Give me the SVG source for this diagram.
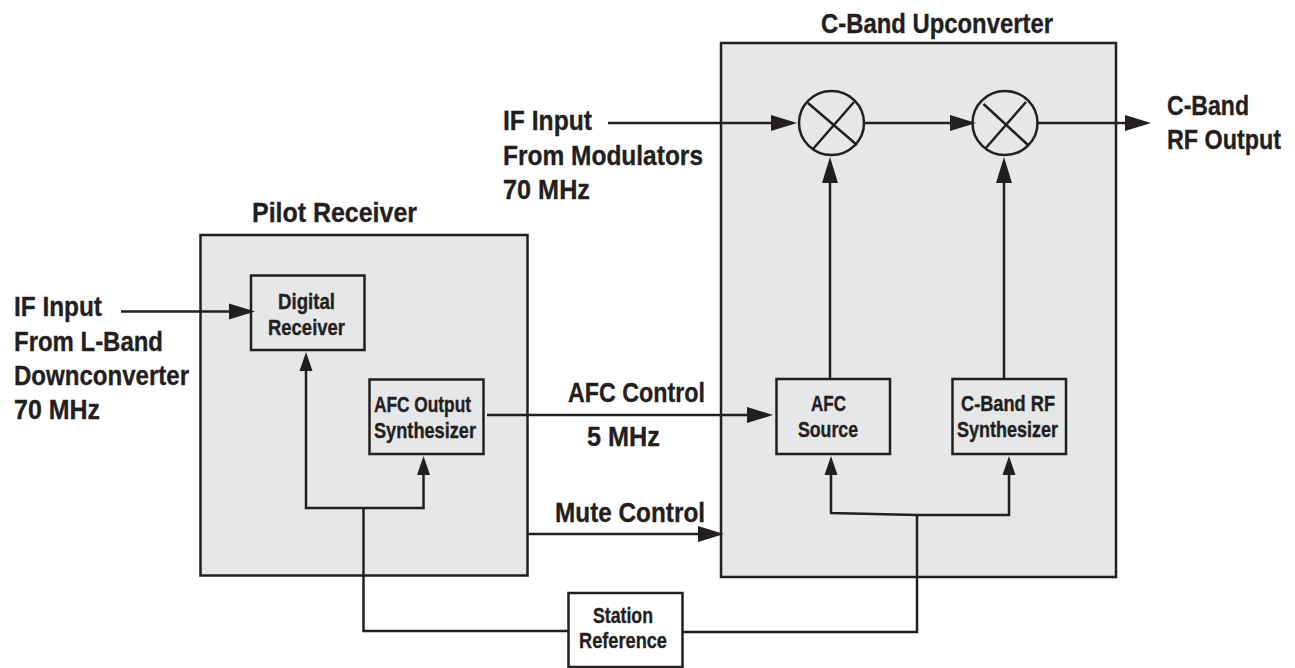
<svg xmlns="http://www.w3.org/2000/svg" width="1295" height="668" viewBox="0 0 1295 668">
<style>
.b{fill:#e6e7e8;stroke:#231f20;stroke-width:2.5}
.w{fill:#fff;stroke:#231f20;stroke-width:2.5}
.c{fill:none;stroke:#231f20;stroke-width:2.5}
text{font-family:"Liberation Sans",Arial,sans-serif;font-weight:700;fill:#231f20;stroke:#231f20;stroke-width:.35}
.l{font-size:28.5px}
.s{font-size:21.500px}
.big{marker-end:url(#ah)}
.sm{marker-end:url(#as)}
</style>
<defs>
<marker id="ah" markerUnits="userSpaceOnUse" markerWidth="27" markerHeight="16" refX="0" refY="8" orient="auto" overflow="visible"><path d="M0 0L26 8L0 16Z" fill="#231f20"/></marker>
<marker id="as" markerUnits="userSpaceOnUse" markerWidth="20" markerHeight="13" refX="0" refY="6.500" orient="auto" overflow="visible"><path d="M0 0L19 6.500L0 13Z" fill="#231f20"/></marker>
</defs>
<rect width="1295" height="668" fill="#fff"/>
<g id="pilot-receiver"><rect class="b" x="200.5" y="235" width="327" height="340.5"/>
<text class="l" x="252" y="222" textLength="165" lengthAdjust="spacingAndGlyphs">Pilot Receiver</text></g>
<g id="c-band-upconverter"><rect class="b" x="721" y="43" width="395" height="534"/>
<text class="l" x="821" y="33" textLength="232" lengthAdjust="spacingAndGlyphs">C-Band Upconverter</text></g>
<g id="connectors">
<path class="c big" d="M608 123H771"/>
<path class="c big" d="M864 123H950"/>
<path class="c big" d="M1038 123H1125"/>
<path class="c big" d="M830 379V183"/>
<path class="c big" d="M1004 379V183"/>
<path class="c big" d="M121 311.5H229"/>
<path class="c sm" d="M363.500 508H306V371"/>
<path class="c sm" d="M363.500 508H423.500V475"/>
<path class="c" d="M363.500 508V631H568.500"/>
<path class="c big" d="M487 415H747"/>
<path class="c big" d="M528 534H698"/>
<path class="c sm" d="M917 515L831 513V475"/>
<path class="c sm" d="M917 515H1009V475"/>
<path class="c" d="M917 515V632H682.500"/>
</g>
<g id="mixer-1"><ellipse class="c" cx="831.500" cy="123" rx="32.500" ry="32"/><path class="c" d="M808 103L857 145M854 102L813 149"/></g>
<g id="mixer-2"><ellipse class="c" cx="1005" cy="123" rx="32.500" ry="32"/><path class="c" d="M983.500 104L1028 145M1026 102L985 149"/></g>
<g id="digital-receiver"><rect class="c" x="251" y="275.500" width="113.500" height="74.500"/>
<text class="s" x="278" y="309" textLength="57" lengthAdjust="spacingAndGlyphs">Digital</text>
<text class="s" x="268" y="335" textLength="77" lengthAdjust="spacingAndGlyphs">Receiver</text></g>
<g id="afc-output-synthesizer"><rect class="c" x="369.500" y="379.500" width="114" height="74.500"/>
<text class="s" x="374" y="412" textLength="97" lengthAdjust="spacingAndGlyphs">AFC Output</text>
<text class="s" x="374" y="438" textLength="102" lengthAdjust="spacingAndGlyphs">Synthesizer</text></g>
<g id="afc-source"><rect class="c" x="776.500" y="379" width="113.500" height="75"/>
<text class="s" x="811" y="411" textLength="35" lengthAdjust="spacingAndGlyphs">AFC</text>
<text class="s" x="798" y="437" textLength="60" lengthAdjust="spacingAndGlyphs">Source</text></g>
<g id="c-band-rf-synthesizer"><rect class="c" x="952.500" y="379" width="113.500" height="75"/>
<text class="s" x="961" y="411" textLength="94" lengthAdjust="spacingAndGlyphs">C-Band RF</text>
<text class="s" x="957" y="437" textLength="101" lengthAdjust="spacingAndGlyphs">Synthesizer</text></g>
<g id="station-reference"><rect class="w" x="568.500" y="593" width="114" height="74"/>
<text class="s" x="593" y="623" textLength="60" lengthAdjust="spacingAndGlyphs">Station</text>
<text class="s" x="579" y="648" textLength="88" lengthAdjust="spacingAndGlyphs">Reference</text></g>
<g id="labels">
<text class="l" x="14" y="316" textLength="88" lengthAdjust="spacingAndGlyphs">IF Input</text>
<text class="l" x="14" y="351" textLength="149" lengthAdjust="spacingAndGlyphs">From L-Band</text>
<text class="l" x="14" y="385" textLength="175" lengthAdjust="spacingAndGlyphs">Downconverter</text>
<text class="l" x="14" y="419" textLength="86" lengthAdjust="spacingAndGlyphs">70 MHz</text>
<text class="l" x="503" y="130" textLength="89" lengthAdjust="spacingAndGlyphs">IF Input</text>
<text class="l" x="503" y="165" textLength="200" lengthAdjust="spacingAndGlyphs">From Modulators</text>
<text class="l" x="503" y="199" textLength="87" lengthAdjust="spacingAndGlyphs">70 MHz</text>
<text class="l" x="1167" y="115" textLength="82" lengthAdjust="spacingAndGlyphs">C-Band</text>
<text class="l" transform="translate(1167 149) scale(.82 1)" x="0" y="0" textLength="139" lengthAdjust="spacingAndGlyphs">RF Output</text>
<text class="l" x="568" y="402" textLength="137" lengthAdjust="spacingAndGlyphs">AFC Control</text>
<text class="l" x="587" y="446" textLength="73" lengthAdjust="spacingAndGlyphs">5 MHz</text>
<text class="l" x="555" y="522" textLength="150" lengthAdjust="spacingAndGlyphs">Mute Control</text>
</g>
</svg>
